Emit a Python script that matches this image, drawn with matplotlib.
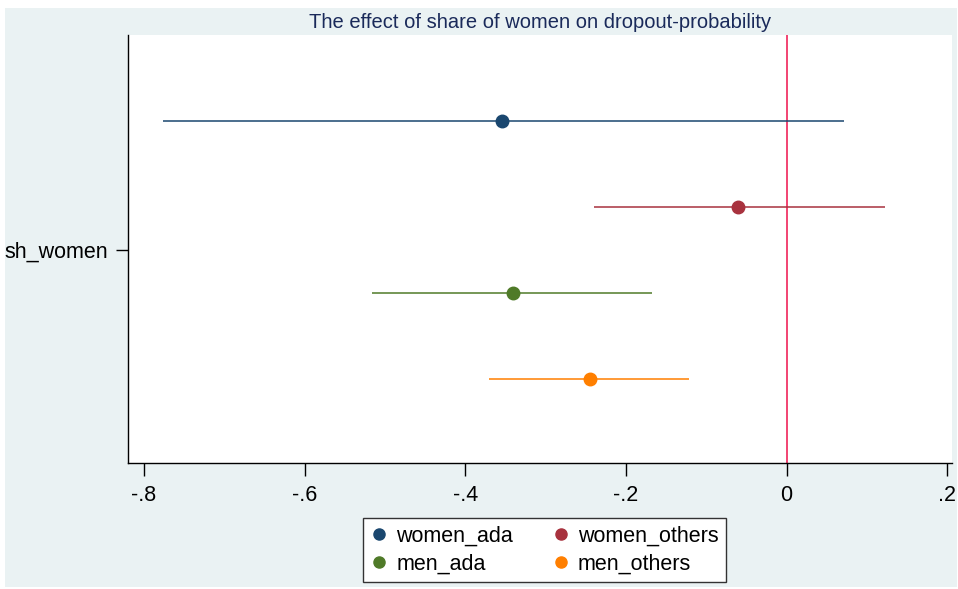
import matplotlib
matplotlib.use("Agg")
import matplotlib.pyplot as plt
from matplotlib.patches import Rectangle
from matplotlib.lines import Line2D

# data
groups = ["women_ada", "women_others", "men_ada", "men_others"]
coef = [-0.354, -0.060, -0.341, -0.245]
ci_low = [-0.776, -0.240, -0.516, -0.370]
ci_high = [0.071, 0.123, -0.167, -0.122]
ypos = [1.5, 0.5, -0.5, -1.5]
xticks = [-0.8, -0.6, -0.4, -0.2, 0, 0.2]
xticklabels = ["-.8", "-.6", "-.4", "-.2", "0", ".2"]

COLORS = ["#1a476f", "#a8323e", "#4f7a28", "#ff7f00"]
BG = "#eaf2f3"
plt.rcParams["font.family"] = ["Liberation Sans", "DejaVu Sans"]

W, H = 958, 589
fig = plt.figure(figsize=(W / 100, H / 100), dpi=100)
fig.patch.set_facecolor("white")
fig.patches.append(Rectangle((5 / W, 2 / H), 952 / W, 579 / H,
                             transform=fig.transFigure, facecolor=BG,
                             edgecolor="none", zorder=-10))

ax = fig.add_axes([128 / W, (H - 463) / H, (952 - 128) / W, (463 - 35) / H])
ax.set_facecolor("white")

for g, c, lo, hi, y, col in zip(groups, coef, ci_low, ci_high, ypos, COLORS):
    ax.hlines(y, lo, hi, color=col, linewidth=1.1, zorder=3)
    ax.plot(c, y, "o", color=col, markersize=9, zorder=4)

ax.axvline(0, color="#f0245a", linewidth=1.2, zorder=2)

ax.set_xlim(-0.82, 0.206)
ax.set_ylim(-2.48, 2.5)
ax.set_xticks(xticks)
ax.set_xticklabels(xticklabels)
ax.set_yticks([0])
ax.set_yticklabels(["sh_women"])
ax.tick_params(axis="both", labelsize=15.5, length=9, width=1, colors="black",
               pad=5)
ax.tick_params(axis="x", pad=7)
for s in ["top", "right"]:
    ax.spines[s].set_visible(False)
for s in ["left", "bottom"]:
    ax.spines[s].set_linewidth(1)
    ax.spines[s].set_color("black")

ax.set_title("The effect of share of women on dropout-probability",
             fontsize=14.5, color="#1a2a5a", pad=5)

# legend fills column-wise, so reorder to get rows women / men
order = [0, 2, 1, 3]
handles = [Line2D([], [], marker="o", linestyle="none", color=COLORS[i],
                  markersize=8) for i in order]
labels = [groups[i] for i in order]
leg = fig.legend(handles, labels, loc="center", ncol=2,
                 bbox_to_anchor=(544.5 / W, 1 - 550 / H), fontsize=15.5,
                 frameon=True, fancybox=False, edgecolor="#333333",
                 framealpha=1, handletextpad=0.4, columnspacing=1.8,
                 labelspacing=0.3, handlelength=0.8, borderpad=0.35)
leg.get_frame().set_linewidth(1)

fig.savefig("out.png", dpi=100, facecolor="white")
